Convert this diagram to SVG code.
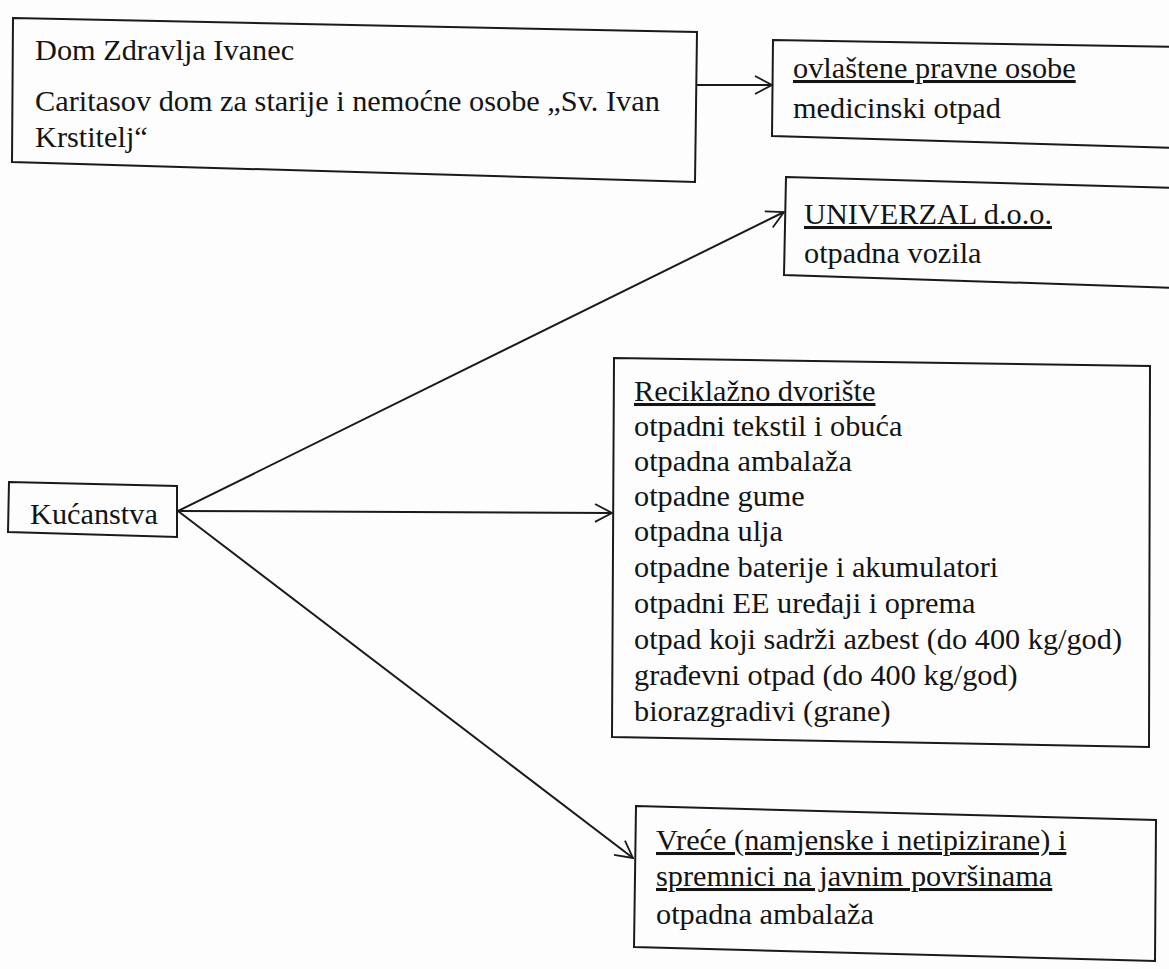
<svg xmlns="http://www.w3.org/2000/svg" width="1169" height="969" viewBox="0 0 1169 969">
<defs>
<style>
.box{fill:none;stroke:#1a1a1a;stroke-width:2;stroke-linejoin:miter}
.t{font-family:"Liberation Serif","Times New Roman",serif;font-size:30.3px;fill:#141414}
.u{text-decoration:underline}
.ln{fill:none;stroke:#1a1a1a;stroke-width:2}
</style>
<marker id="ah" viewBox="0 0 20 20" refX="18" refY="10" markerWidth="20" markerHeight="20" markerUnits="userSpaceOnUse" orient="auto">
<path d="M1,1 L18,10 L1,19" fill="none" stroke="#1a1a1a" stroke-width="1.8"/>
</marker>
</defs>
<rect x="0" y="0" width="1169" height="969" fill="#fdfdfd"/>

<g id="dom-zdravlja">
<polygon class="box" points="13,18 697,32 695,182 12,162"/>
<text class="t" x="35" y="60">Dom Zdravlja Ivanec</text>
<text class="t" x="35" y="111">Caritasov dom za starije i nemoćne osobe „Sv. Ivan</text>
<text class="t" x="35" y="147">Krstitelj“</text>
</g>

<g id="ovlastene">
<polygon class="box" points="773,40 1180,47 1180,148 772,136"/>
<text class="t u" x="793" y="78">ovlaštene pravne osobe</text>
<text class="t" x="793" y="118">medicinski otpad</text>
</g>

<g id="univerzal">
<polygon class="box" points="786,177 1180,188 1180,288 784,275"/>
<text class="t u" x="804" y="224">UNIVERZAL d.o.o.</text>
<text class="t" x="804" y="263">otpadna vozila</text>
</g>

<g id="kucanstva">
<polygon class="box" points="9,482 177,486 177,537 8,532"/>
<text class="t" x="30" y="524">Kućanstva</text>
</g>

<g id="reciklazno">
<polygon class="box" points="614,358 1150,366 1149,747 612,737"/>
<text class="t u" x="634" y="401">Reciklažno dvorište</text>
<text class="t" x="634" y="436">otpadni tekstil i obuća</text>
<text class="t" x="634" y="471">otpadna ambalaža</text>
<text class="t" x="634" y="506">otpadne gume</text>
<text class="t" x="634" y="541">otpadna ulja</text>
<text class="t" x="634" y="577">otpadne baterije i akumulatori</text>
<text class="t" x="634" y="613">otpadni EE uređaji i oprema</text>
<text class="t" x="634" y="649">otpad koji sadrži azbest (do 400 kg/god)</text>
<text class="t" x="634" y="685">građevni otpad (do 400 kg/god)</text>
<text class="t" x="634" y="721">biorazgradivi (grane)</text>
</g>

<g id="vrece">
<polygon class="box" points="636,806 1156,820 1155,961 634,947"/>
<text class="t u" x="656" y="850">Vreće (namjenske i netipizirane) i</text>
<text class="t u" x="656" y="886">spremnici na javnim površinama</text>
<text class="t" x="656" y="924">otpadna ambalaža</text>
</g>

<g id="connectors">
<line class="ln" x1="697" y1="85" x2="772" y2="85" marker-end="url(#ah)"/>
<line class="ln" x1="178" y1="511" x2="784" y2="212" marker-end="url(#ah)"/>
<line class="ln" x1="178" y1="511" x2="612" y2="513" marker-end="url(#ah)"/>
<line class="ln" x1="178" y1="511" x2="633" y2="858" marker-end="url(#ah)"/>
</g>
</svg>
